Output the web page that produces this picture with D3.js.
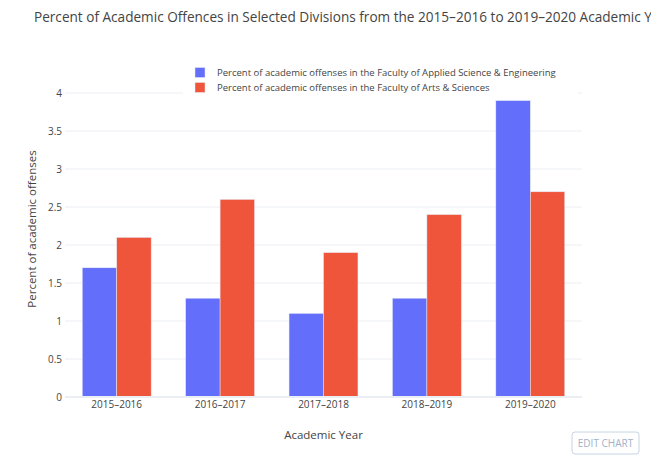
<!DOCTYPE html>
<html>
<head>
<meta charset="utf-8">
<script src="https://cdn.jsdelivr.net/npm/d3@7"></script>
<style>
  body { margin: 0; background: #fff; }
  svg text { font-family: "Open Sans", sans-serif; fill: #444; }
</style>
</head>
<body>
<svg id="chart" width="651" height="472"></svg>
<script>
// data
var years = ["2015–2016", "2016–2017", "2017–2018", "2018–2019", "2019–2020"];
var appliedScience = [1.7, 1.3, 1.1, 1.3, 3.9];
var artsScience = [2.1, 2.6, 1.9, 2.4, 2.7];
var seriesNames = [
  "Percent of academic offenses in the Faculty of Applied Science & Engineering",
  "Percent of academic offenses in the Faculty of Arts & Sciences"
];
var seriesColors = ["#636efa", "#ef553b"];
var yTicks = [0, 0.5, 1, 1.5, 2, 2.5, 3, 3.5, 4];

var svg = d3.select("#chart");
var plotLeft = 65, plotRight = 582, plotTop = 93, plotBottom = 397;

var x0 = d3.scaleBand().domain(years).range([plotLeft, plotRight])
  .paddingInner(1/3).paddingOuter(1/6);
var x1 = d3.scaleBand().domain([0, 1]).range([0, x0.bandwidth()]);
var y = d3.scaleLinear().domain([0, 4]).range([plotBottom, plotTop]);

// gridlines
svg.append("g").selectAll("line.grid").data(yTicks.filter(function(d){ return d > 0; }))
  .enter().append("line")
    .attr("class", "grid")
    .attr("x1", plotLeft).attr("x2", plotRight)
    .attr("y1", function(d){ return y(d); })
    .attr("y2", function(d){ return y(d); })
    .attr("stroke", "#ebeef3").attr("stroke-width", 1);

// y tick labels
svg.append("g").selectAll("text").data(yTicks).enter().append("text")
  .attr("x", plotLeft - 3)
  .attr("y", function(d){ return y(d); })
  .attr("dy", "0.35em")
  .attr("text-anchor", "end")
  .attr("font-size", 10)
  .text(function(d){ return d.toString(); });

// bars
var rows = years.map(function(yr, i){ return {year: yr, vals: [appliedScience[i], artsScience[i]]}; });
var groups = svg.append("g").selectAll("g").data(rows).enter().append("g")
  .attr("transform", function(d){ return "translate(" + x0(d.year) + ",0)"; });
groups.selectAll("rect").data(function(d){ return d.vals.map(function(v, k){ return {k: k, v: v}; }); })
  .enter().append("rect")
    .attr("x", function(d){ return x1(d.k); })
    .attr("width", x1.bandwidth())
    .attr("y", function(d){ return y(d.v); })
    .attr("height", function(d){ return y(0) - y(d.v); })
    .attr("fill", function(d){ return seriesColors[d.k]; })
    .attr("stroke", "#e5ecf6").attr("stroke-width", 0.5);

// zero line
svg.append("line")
  .attr("x1", plotLeft).attr("x2", plotRight)
  .attr("y1", y(0)).attr("y2", y(0))
  .attr("stroke", "#ebeef3").attr("stroke-width", 2);

// x tick labels
svg.append("g").selectAll("text").data(years).enter().append("text")
  .attr("x", function(d){ return x0(d) + x0.bandwidth()/2; })
  .attr("y", 404)
  .attr("dy", "0.35em")
  .attr("text-anchor", "middle")
  .attr("font-size", 10)
  .text(function(d){ return d; });

// axis titles
svg.append("text")
  .attr("x", (plotLeft + plotRight)/2).attr("y", 435).attr("dy", "0.35em")
  .attr("text-anchor", "middle").attr("font-size", 11.5)
  .text("Academic Year");
svg.append("text")
  .attr("transform", "translate(32," + ((plotTop + plotBottom)/2 - 16) + ") rotate(-90)")
  .attr("dy", "0.35em")
  .attr("text-anchor", "middle").attr("font-size", 11.5)
  .text("Percent of academic offenses");

// title
svg.append("text")
  .attr("x", 34).attr("y", 17).attr("dy", "0.35em")
  .attr("font-size", 13.6)
  .text("Percent of Academic Offences in Selected Divisions from the 2015–2016 to 2019–2020 Academic Years");

// legend
var legend = svg.append("g").attr("transform", "translate(183,60)");
legend.append("rect").attr("width", 395).attr("height", 36).attr("fill", "#fff");
var items = legend.selectAll("g.item").data(seriesNames).enter().append("g")
  .attr("class", "item")
  .attr("transform", function(d, i){ return "translate(0," + (12.5 + i*15) + ")"; });
items.append("rect")
  .attr("x", 12).attr("y", -5).attr("width", 10).attr("height", 10)
  .attr("fill", function(d, i){ return seriesColors[i]; })
  .attr("stroke", "#e5ecf6").attr("stroke-width", 0.5);
items.append("text")
  .attr("x", 34).attr("dy", "0.35em")
  .attr("font-size", 9.5)
  .text(function(d){ return d; });

// edit chart button
var btn = svg.append("g").attr("transform", "translate(572,432)");
btn.append("rect").attr("width", 67).attr("height", 22).attr("rx", 3)
  .attr("fill", "#fff").attr("stroke", "#c8d4e3").attr("stroke-width", 1);
btn.append("text").attr("x", 33.5).attr("y", 11).attr("dy", "0.35em")
  .attr("text-anchor", "middle").attr("font-size", 10)
  .style("fill", "#a2b1c6")
  .text("EDIT CHART");
</script>
</body>
</html>
